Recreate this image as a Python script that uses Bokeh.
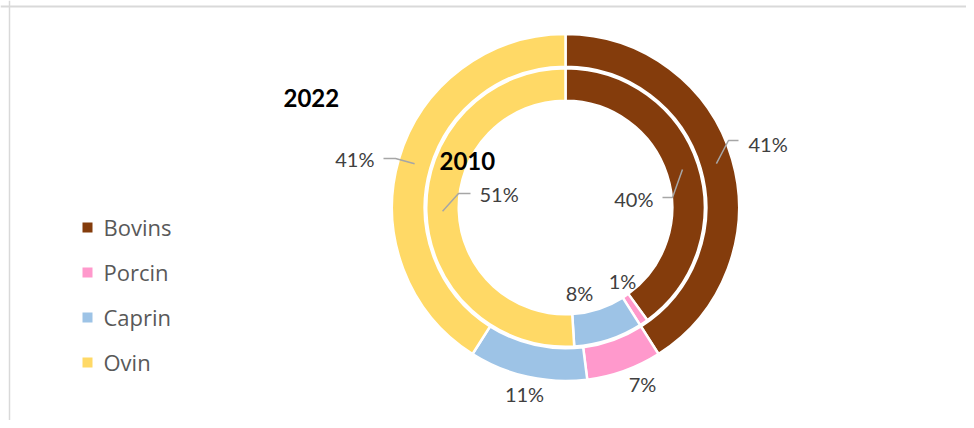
import numpy as np
from bokeh.plotting import figure
from bokeh.models import Range1d, Span
from bokeh.embed import file_html
from bokeh.resources import INLINE
from bokeh.core.properties import value

# ---------------- data ----------------
categories = ["Bovins", "Porcin", "Caprin", "Ovin"]
values_2022 = [41, 7, 11, 41]   # outer ring
values_2010 = [40, 1, 8, 51]    # inner ring
colors = ["#843C0C", "#FF99CC", "#9DC3E6", "#FFD966"]
years = ["2022", "2010"]

# ---------------- layout (screenshot pixels) ----------------
W, H = 966, 420
OX, OY = 0, 0
CX, CY = 565, 207          # donut centre
OUTER = (140.75, 173.5)
INNER = (106.75, 139.25)

def X(x):
    return x - CX

def Y(y):
    return CY - y

# label placement per slice: (x, y, align)
outer_lbl = [(748, 143, "left"), (642, 383, "center"), (524, 393, "center"), (374, 158, "right")]
inner_lbl = [(653, 198, "right"), (622, 280, "center"), (579, 292, "center"), (479, 193, "left")]
# leader lines: (elbow, end) or None
outer_lead = [((728, 140), (738, 140)), None, None, ((395, 158), (383, 158))]
inner_lead = [((672, 197), (662, 197)), None, None, ((458, 193), (470, 193))]
year_pos = [(283, 97), (439, 160)]
legend_x, legend_y0, legend_dy = 87, 227, 45

p = figure(width=W, height=H, output_backend="svg", toolbar_location=None,
           x_range=Range1d(X(OX), X(OX + W)), y_range=Range1d(Y(OY + H), Y(OY)),
           min_border=0, outline_line_color=None, background_fill_color="white")
p.axis.visible = False
p.grid.visible = False

# chart border (top + left)
p.add_layout(Span(location=Y(6), dimension="width", line_color="#D9D9D9", line_width=2))
p.add_layout(Span(location=X(9), dimension="height", line_color="#D9D9D9", line_width=1.5))

FONT = value("Lato")

def ring(vals, radii, lbls, leads):
    v = np.array(vals, dtype=float)
    frac = v / v.sum()
    cum = np.concatenate([[0], np.cumsum(frac)])
    start = np.pi / 2 - 2 * np.pi * cum[:-1]
    end = np.pi / 2 - 2 * np.pi * cum[1:]
    p.annular_wedge(x=0, y=0, inner_radius=radii[0], outer_radius=radii[1],
                    start_angle=start, end_angle=end, direction="clock",
                    fill_color=colors, line_color="white", line_width=2.5)
    mid = (cum[:-1] + cum[1:]) / 2
    rm = (radii[0] + radii[1]) / 2
    for i, val in enumerate(vals):
        lx, ly, al = lbls[i]
        p.text(x=[X(lx)], y=[Y(ly)], text=["%d%%" % val], text_font=FONT,
               text_font_size=value("20px"), text_color="#404040",
               text_align=al, text_baseline="middle")
        if leads[i] is not None:
            a = mid[i] * 2 * np.pi
            sx, sy = rm * np.sin(a), rm * np.cos(a)
            (ex, ey), (tx, ty) = leads[i]
            p.line(x=[sx, X(ex), X(tx)], y=[sy, Y(ey), Y(ty)],
                   line_color="#A6A6A6", line_width=1.5)

ring(values_2022, OUTER, outer_lbl, outer_lead)
ring(values_2010, INNER, inner_lbl, inner_lead)

for yr, (yx, yy) in zip(years, year_pos):
    p.text(x=[X(yx)], y=[Y(yy)], text=[yr], text_font=FONT, text_font_style="bold",
           text_font_size=value("24px"), text_color="black",
           text_align="left", text_baseline="middle")

# legend
for i, (cat, col) in enumerate(zip(categories, colors)):
    ly = legend_y0 + i * legend_dy
    p.rect(x=[X(legend_x)], y=[Y(ly)], width=10, height=10, fill_color=col, line_color=None)
    p.text(x=[X(legend_x + 16)], y=[Y(ly - 1)], text=[cat], text_font=value("Open Sans"),
           text_font_size=value("22px"), text_color="#595959",
           text_align="left", text_baseline="middle")

open("out.html", "w").write(file_html(p, INLINE))
